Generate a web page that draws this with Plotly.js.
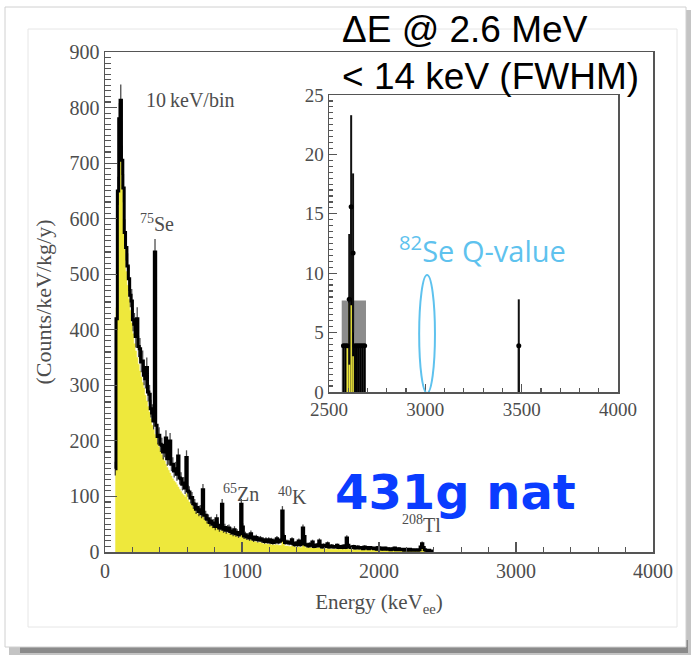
<!DOCTYPE html>
<html>
<head>
<meta charset="utf-8">
<script src="https://cdn.plot.ly/plotly-3.0.1.min.js"></script>
<style>html,body{margin:0;padding:0;background:#fff;}#chart{width:694px;height:657px;}</style>
</head>
<body>
<div id="chart"></div>
<script>
// ---- Main spectrum (10 keV bins, first bin centre 75 keV) ----
const binStart = 75;
const binWidth = 10;
const dataCounts = [
  150, 420, 650, 780, 813, 705, 655, 575, 548, 515,
  492, 462, 452, 418, 410, 388, 420, 370, 366, 342,
  344, 318, 312, 332, 288, 284, 258, 250, 236, 540,
  228, 208, 210, 194, 192, 180, 184, 205, 168, 170,
  200, 158, 158, 146, 150, 140, 173, 133, 132, 122,
  124, 115, 170, 110, 108, 97, 98, 87, 86, 77,
  80, 73, 76, 69, 112, 66, 66, 59, 60, 53,
  56, 50, 52, 46, 60, 48, 43, 46, 86, 41,
  44, 39, 42, 43, 37, 38, 34, 40, 33, 35,
  31, 33, 86, 45, 29, 31, 27, 29, 25, 33,
  27, 23, 25, 26, 22, 23, 24, 21, 22, 19,
  22, 19, 22, 18, 21, 17, 20, 18, 24, 18,
  20, 21, 74, 28, 17, 18, 18, 16, 17, 22,
  15, 13, 16, 13, 20, 13, 15, 43, 28, 13,
  13, 11, 14, 12, 18, 10, 12, 11, 13, 20,
  11, 9, 12, 10, 11, 15, 9, 10, 11, 9,
  9, 10, 12, 8, 9, 10, 8, 11, 8, 25,
  12, 9, 8, 9, 10, 7, 8, 9, 7, 8,
  8, 6, 9, 7, 8, 6, 8, 7, 7, 6,
  7, 5, 8, 6, 7, 5, 6, 7, 5, 6,
  6, 4, 6, 5, 7, 4, 5, 6, 4, 5,
  5, 3, 5, 4, 3, 5, 3, 4, 4, 3,
  4, 3, 4, 9, 15, 8, 4, 3, 2, 3,
  2, 2, 1
];
const mcCounts = [
  200, 440, 620, 720, 740, 660, 600, 545, 505, 480,
  455, 435, 412, 393, 375, 362, 350, 338, 326, 315,
  305, 295, 282, 272, 262, 252, 240, 228, 220, 212,
  205, 196, 189, 182, 175, 169, 164, 158, 152, 147,
  142, 137, 132, 128, 125, 121, 117, 113, 109, 105,
  102, 99, 105, 94, 90, 86, 83, 79, 75, 71,
  69, 67, 65, 63, 72, 59, 56, 54, 51, 49,
  47, 46, 44, 43, 48, 41, 40, 38, 55, 37,
  36, 35, 34, 33, 33, 31, 30, 30, 29, 28,
  27, 26, 45, 30, 25, 24, 23, 22, 21, 22,
  20, 19, 19, 18, 17, 17, 17, 16, 15, 15,
  15, 14, 14, 14, 13, 13, 13, 12, 13, 12,
  12, 12, 45, 15, 11, 11, 11, 10, 10, 11,
  10, 9, 9, 9, 9, 8, 8, 20, 12, 8,
  8, 8, 8, 7, 7, 7, 7, 7, 7, 8,
  6, 6, 6, 6, 6, 6, 6, 5, 5, 5,
  5, 5, 5, 5, 5, 5, 5, 5, 5, 8,
  5, 5, 4, 4, 4, 4, 4, 4, 4, 4,
  4, 4, 4, 4, 4, 4, 4, 4, 4, 4,
  3.5, 3.5, 3.5, 3.5, 3.5, 3.5, 3.5, 3.5, 3.5, 3.5,
  3, 3, 3, 3, 3, 3, 3, 3, 3, 3,
  2.5, 2.5, 2.5, 2.5, 2.5, 2.5, 2.5, 2.5, 2.5, 2.5,
  2, 2, 2, 4, 6, 4, 2, 2, 1.5, 1.5,
  1, 1, 1
];
const mainXTicks = [0, 1000, 2000, 3000, 4000];
const mainYTicks = [0, 100, 200, 300, 400, 500, 600, 700, 800, 900];

// ---- Inset (2500-4000 keV) ----
const insetEnergy = [2575, 2585, 2595, 2605, 2615, 2625, 2635, 2645, 2655, 2665, 2675, 2685, 3485];
const insetCounts = [3.9, 3.9, 3.9, 7.8, 15.6, 11.7, 3.9, 3.9, 3.9, 3.9, 3.9, 3.9, 3.9];
const insetErrors = [0, 0, 0, 5.5, 7.7, 6.7, 0, 0, 0, 0, 0, 0, 3.9];
const insetMCEnergy = [2595, 2605, 2615, 2625];
const insetMC = [4.0, 7.5, 7.3, 3.0];
const insetBandCentre = [2629];
const insetBandWidth = [126];
const insetBandHeight = [7.7];
const insetXTicks = [2500, 3000, 3500, 4000];
const insetYTicks = [0, 5, 10, 15, 20, 25];

// ---- geometry helpers (pixels -> paper) ----
const L = 105, R = 653, T = 52, B = 552;
const px = v => (v - L) / (R - L);
const py = v => (B - v) / (B - T);

const serif = 'Liberation Serif';
const tickCol = '#4d4d4d';
const frameCol = '#555';
const yellow = '#eee83c';

const traces = [
  {
    type: 'scatter', mode: 'lines', x0: binStart, dx: binWidth, y: mcCounts,
    line: {shape: 'hvh', color: yellow, width: 0.5},
    fill: 'tozeroy', fillcolor: yellow, hoverinfo: 'skip', xaxis: 'x', yaxis: 'y'
  },
  {
    type: 'scatter', mode: 'lines', x0: binStart, dx: binWidth, y: dataCounts,
    line: {shape: 'hvh', color: '#000', width: 3},
    error_y: {type: 'sqrt', color: 'rgba(0,0,0,0.7)', thickness: 1.3, width: 0},
    xaxis: 'x', yaxis: 'y'
  },
  {
    type: 'bar', x: insetBandCentre, y: insetBandHeight, width: insetBandWidth,
    marker: {color: '#8c8c8c', line: {width: 0}}, xaxis: 'x2', yaxis: 'y2'
  },
  {
    type: 'bar', x: insetEnergy, y: insetCounts, width: 10,
    marker: {color: '#000', line: {width: 0}}, xaxis: 'x2', yaxis: 'y2'
  },
  {
    type: 'bar', x: insetMCEnergy, y: insetMC, width: 8,
    marker: {color: yellow, line: {width: 0}}, xaxis: 'x2', yaxis: 'y2'
  },
  {
    type: 'scatter', mode: 'markers', x: insetEnergy, y: insetCounts,
    marker: {color: '#000', size: 5, symbol: 'circle'},
    error_y: {type: 'data', array: insetErrors, color: '#111', thickness: 2, width: 0},
    xaxis: 'x2', yaxis: 'y2'
  }
];

const shapes = [
  {type: 'rect', xref: 'paper', yref: 'paper', x0: px(9), x1: px(691), y0: py(10), y1: py(655),
   fillcolor: '#c4c4c4', line: {width: 0}, layer: 'below'},
  {type: 'rect', xref: 'paper', yref: 'paper', x0: px(20), x1: px(688), y0: py(640), y1: py(653),
   fillcolor: '#8a8a8a', line: {width: 0}, layer: 'below'},
  {type: 'rect', xref: 'paper', yref: 'paper', x0: px(5), x1: px(686), y0: py(7), y1: py(647),
   fillcolor: '#ffffff', line: {color: '#d0d0d0', width: 1}, layer: 'below'},
  {type: 'rect', xref: 'paper', yref: 'paper', x0: px(28), x1: px(677), y0: py(29), y1: py(627),
   fillcolor: 'rgba(0,0,0,0)', line: {color: '#e6e6e6', width: 1}, layer: 'below'},
  {type: 'circle', xref: 'x2', yref: 'y2', x0: 2968, x1: 3050, y0: -0.1, y1: 9.85,
   line: {color: '#5ec2ee', width: 2}, fillcolor: 'rgba(0,0,0,0)'}
];

const annotations = [
  {xref: 'x', yref: 'y', x: 285, y: 813, xanchor: 'left', yanchor: 'middle', showarrow: false,
   text: '10\u2009keV/bin', font: {family: serif, size: 20, color: tickCol}},
  {xref: 'x', yref: 'y', x: 238, y: 592, xanchor: 'left', yanchor: 'middle', showarrow: false,
   text: '<sup>75</sup>Se', font: {family: serif, size: 20, color: tickCol}},
  {xref: 'x', yref: 'y', x: 850, y: 106, xanchor: 'left', yanchor: 'middle', showarrow: false,
   text: '<sup>65</sup>Zn', font: {family: serif, size: 20, color: tickCol}},
  {xref: 'x', yref: 'y', x: 1250, y: 101, xanchor: 'left', yanchor: 'middle', showarrow: false,
   text: '<sup>40</sup>K', font: {family: serif, size: 20, color: tickCol}},
  {xref: 'x', yref: 'y', x: 2150, y: 50, xanchor: 'left', yanchor: 'middle', showarrow: false,
   text: '<sup>208</sup>Tl', font: {family: serif, size: 20, color: tickCol}},
  {xref: 'paper', yref: 'paper', x: px(340), y: py(30), xanchor: 'left', yanchor: 'middle', showarrow: false,
   text: '\u0394E @ 2.6 MeV', font: {family: 'Liberation Sans', size: 37, color: '#000'}},
  {xref: 'paper', yref: 'paper', x: px(340), y: py(76), xanchor: 'left', yanchor: 'middle', showarrow: false,
   text: '< 14 keV (FWHM)', font: {family: 'Liberation Sans', size: 37, color: '#000'}},
  {xref: 'x2', yref: 'y2', x: 2855, y: 12.0, xanchor: 'left', yanchor: 'middle', showarrow: false,
   text: '<sup>82</sup>Se Q-value', font: {family: 'Open Sans', size: 29, color: '#5ec2ee'}},
  {xref: 'paper', yref: 'paper', x: px(333), y: py(492), xanchor: 'left', yanchor: 'middle', showarrow: false,
   text: '<b>431g nat</b>', font: {family: 'DejaVu Sans', size: 48, color: '#0a3cff'}}
];

const axisCommon = {
  showgrid: false, zeroline: false, showline: true, mirror: true,
  linecolor: frameCol, linewidth: 1.5, ticks: 'inside', tickcolor: frameCol,
  tickfont: {family: serif, size: 20, color: tickCol}
};

const layout = {
  width: 694, height: 657,
  margin: {l: L, r: 694 - R, t: T, b: 657 - B, autoexpand: false},
  paper_bgcolor: '#ffffff', plot_bgcolor: 'rgba(0,0,0,0)',
  showlegend: false, barmode: 'overlay',
  xaxis: Object.assign({}, axisCommon, {
    domain: [0, 1], range: [0, 4000], tickmode: 'array', tickvals: mainXTicks,
    ticklen: 10, tickwidth: 1.2, minor: {dtick: 200, ticklen: 5, ticks: 'inside', tickcolor: frameCol},
    title: {text: 'Energy (keV<sub>ee</sub>)', font: {family: serif, size: 21, color: tickCol}, standoff: 14}
  }),
  yaxis: Object.assign({}, axisCommon, {
    domain: [0, 1], range: [0, 900], tickmode: 'array', tickvals: mainYTicks,
    ticklen: 12, tickwidth: 1.2, minor: {dtick: 10, ticklen: 6, ticks: 'inside', tickcolor: frameCol},
    title: {text: '(Counts/keV/kg/y)', font: {family: serif, size: 22, color: tickCol}, standoff: 12}
  }),
  xaxis2: Object.assign({}, axisCommon, {
    domain: [px(329), px(618)], anchor: 'y2', range: [2500, 4000], tickmode: 'array', tickvals: insetXTicks,
    ticklen: 8, tickwidth: 1.2, minor: {dtick: 100, ticklen: 4, ticks: 'inside', tickcolor: frameCol},
    tickfont: {family: serif, size: 19, color: tickCol}
  }),
  yaxis2: Object.assign({}, axisCommon, {
    domain: [py(392), py(95)], anchor: 'x2', range: [0, 25], tickmode: 'array', tickvals: insetYTicks,
    ticklen: 8, tickwidth: 1.2, minor: {dtick: 0.5, ticklen: 4, ticks: 'inside', tickcolor: frameCol},
    tickfont: {family: serif, size: 19, color: tickCol}
  }),
  shapes: shapes,
  annotations: annotations
};

Plotly.newPlot('chart', traces, layout, {displayModeBar: false, staticPlot: true});
</script>
</body>
</html>
